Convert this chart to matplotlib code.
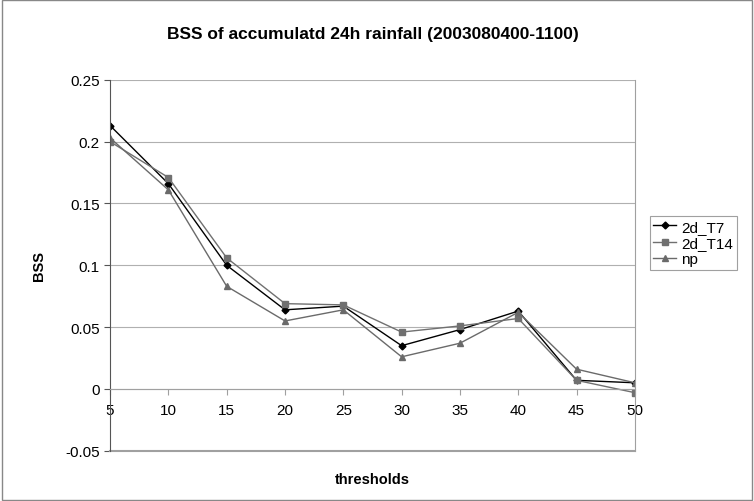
import matplotlib
matplotlib.use('Agg')
import matplotlib.pyplot as plt
from matplotlib.patches import Rectangle

# data
thresholds = [5, 10, 15, 20, 25, 30, 35, 40, 45, 50]
bss_t7 = [0.213, 0.166, 0.100, 0.064, 0.067, 0.035, 0.048, 0.063, 0.007, 0.005]
bss_t14 = [0.200, 0.171, 0.106, 0.069, 0.068, 0.046, 0.051, 0.057, 0.007, -0.003]
bss_np = [0.203, 0.161, 0.083, 0.055, 0.064, 0.026, 0.037, 0.062, 0.016, 0.005]
yticks = [-0.05, 0, 0.05, 0.1, 0.15, 0.2, 0.25]
ytick_labels = ['-0.05', '0', '0.05', '0.1', '0.15', '0.2', '0.25']

plt.rcParams['font.family'] = ['Liberation Sans', 'DejaVu Sans']

fig = plt.figure(figsize=(7.54, 5.02), dpi=100)
fig.patches.append(Rectangle((0.002, 0.002), 0.996, 0.996, transform=fig.transFigure,
                             fill=False, edgecolor='#888888', lw=1))
ax = fig.add_axes([0.146, 0.100, 0.696, 0.739])

xpos = list(range(len(thresholds)))
ax.plot(xpos, bss_t7, color='black', marker='D', ms=3.5, lw=1, label='2d_T7')
ax.plot(xpos, bss_t14, color='#707070', marker='s', ms=5, lw=1, label='2d_T14')
ax.plot(xpos, bss_np, color='#6a6a6a', marker='^', ms=5, lw=1, label='np')

ax.set_xlim(0, len(thresholds) - 1)
ax.set_ylim(-0.05, 0.25)
ax.set_yticks(yticks)
ax.set_yticklabels(ytick_labels, fontsize=11)
ax.grid(axis='y', color='#b0b0b0', lw=0.8)
ax.set_axisbelow(True)

# x axis crosses at zero
ax.spines['bottom'].set_position(('data', 0))
ax.spines['bottom'].set_color('#a0a0a0')
ax.spines['top'].set_visible(False)
ax.spines['right'].set_color('#a0a0a0')
ax.spines['left'].set_color('#555555')
ax.set_xticks(xpos)
ax.set_xticklabels([str(t) for t in thresholds], fontsize=11)
ax.tick_params(axis='x', length=4, color='#a0a0a0', pad=6)
ax.tick_params(axis='y', length=4, color='#555555')
# bottom border of plot area
ax.plot([0, 1], [0, 0], transform=ax.transAxes, color='#a0a0a0', lw=1.5, clip_on=False)

ax.set_title('BSS of accumulatd 24h rainfall (2003080400-1100)', fontsize=12.5,
             fontweight='bold', pad=30)
ax.set_ylabel('BSS', fontsize=10.5, fontweight='bold', labelpad=14)
fig.text(0.494, 0.043, 'thresholds', ha='center', va='center', fontsize=10.5, fontweight='bold')

leg = ax.legend(loc='center left', bbox_to_anchor=(1.028, 0.56), fontsize=11,
                frameon=True, fancybox=False, handlelength=1.5, handletextpad=0.3,
                borderpad=0.25, labelspacing=0.15, borderaxespad=0)
leg.get_frame().set_edgecolor('#888888')
leg.get_frame().set_linewidth(0.8)

fig.savefig('out.png', dpi=100)
